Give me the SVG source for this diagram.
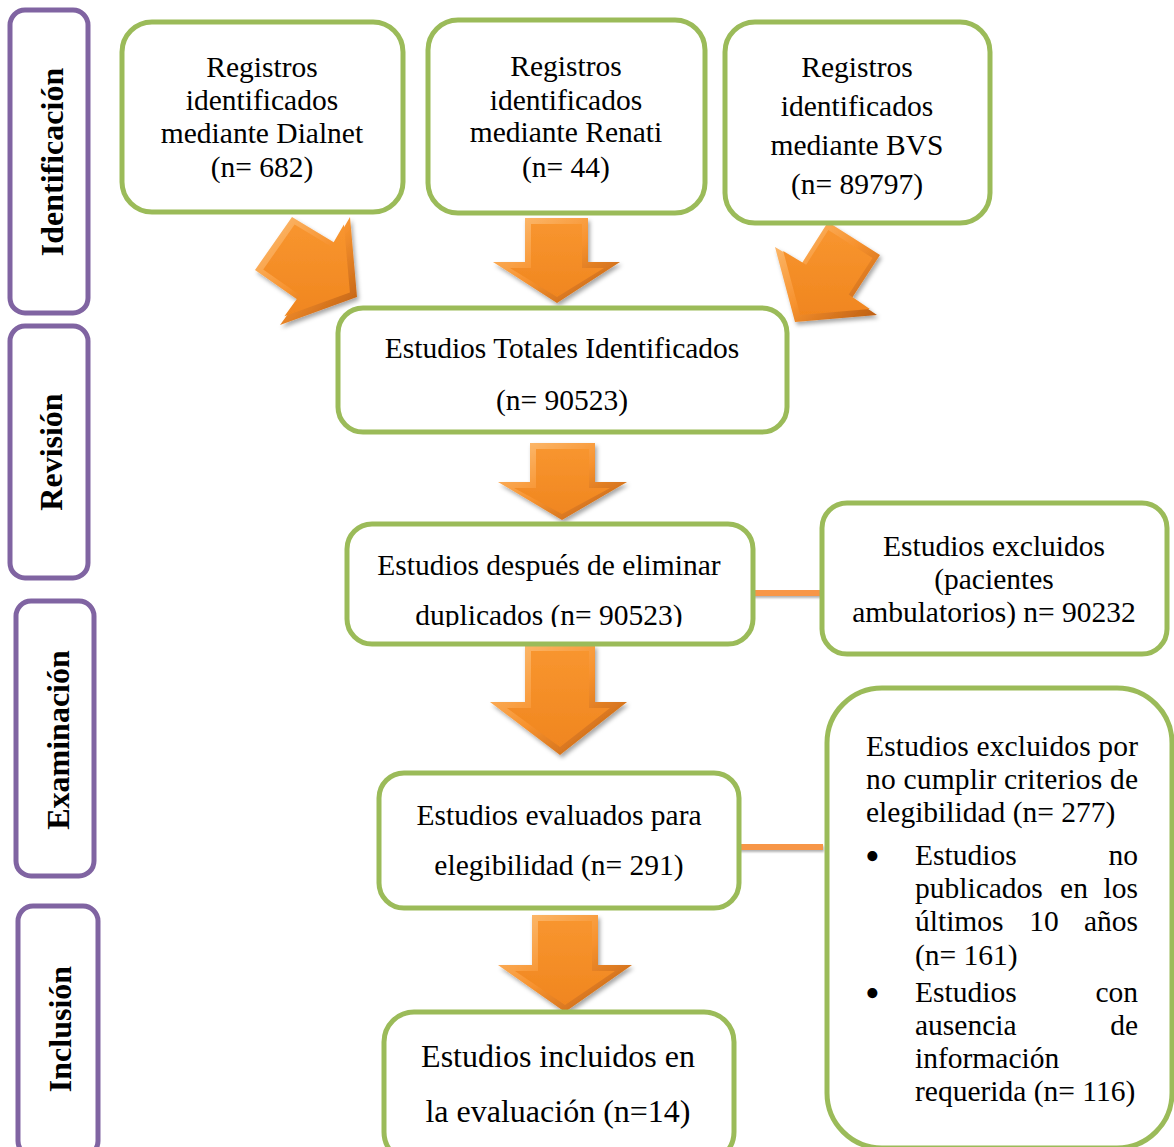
<svg xmlns="http://www.w3.org/2000/svg" width="1174" height="1147" viewBox="0 0 1174 1147">
<defs>
<style>
.phase{fill:#fff;stroke:#8064A2;stroke-width:5}
.ptxt{font-family:"Liberation Serif","Times New Roman",serif;font-weight:bold;font-size:32px;fill:#000;text-anchor:middle}
.box{fill:#fff;stroke:#9BBB59;stroke-width:5}
.t{font-family:"Liberation Serif","Times New Roman",serif;font-size:29.5px;fill:#000;text-anchor:middle}
.tb{font-size:32px}
.tl{font-family:"Liberation Serif","Times New Roman",serif;font-size:29.5px;fill:#000}
.bul{font-family:"Liberation Serif","Times New Roman",serif;font-size:42px;fill:#000}
.conn{fill:#F79646}
.aout{fill:url(#gOut)}
.ain{fill:url(#gIn)}
</style>
<linearGradient id="gOut" x1="0" y1="0" x2="1" y2="1">
<stop offset="0" stop-color="#FDC27C"/>
<stop offset="0.5" stop-color="#F7922E"/>
<stop offset="1" stop-color="#B85A10"/>
</linearGradient>
<linearGradient id="gIn" x1="0" y1="0" x2="0" y2="1">
<stop offset="0" stop-color="#F8952F"/>
<stop offset="1" stop-color="#F0861F"/>
</linearGradient>
<filter id="sh" x="-20%" y="-20%" width="140%" height="140%">
<feDropShadow dx="2" dy="3" stdDeviation="2" flood-color="#000" flood-opacity="0.35"/>
</filter>
<filter id="lsh" filterUnits="userSpaceOnUse" x="0" y="0" width="1174" height="1147">
<feDropShadow dx="1" dy="2" stdDeviation="1" flood-color="#000" flood-opacity="0.3"/>
</filter>
<clipPath id="clip5"><rect x="347" y="523" width="406" height="104"/></clipPath>
</defs>
<rect width="1174" height="1147" fill="#fff"/>

<g id="phase-identificacion">
<rect class="phase" x="10" y="10" width="78" height="303" rx="15"/>
<text class="ptxt" transform="translate(63,162) rotate(-90)">Identificación</text>
</g>
<g id="phase-revision">
<rect class="phase" x="10" y="326" width="78" height="252" rx="15"/>
<text class="ptxt" transform="translate(62,452) rotate(-90)">Revisión</text>
</g>
<g id="phase-examinacion">
<rect class="phase" x="16" y="601" width="78" height="275" rx="15"/>
<text class="ptxt" transform="translate(69,740) rotate(-90)">Examinación</text>
</g>
<g id="phase-inclusion">
<rect class="phase" x="18" y="906" width="80" height="250" rx="15"/>
<text class="ptxt" transform="translate(71,1029) rotate(-90)">Inclusión</text>
</g>

<g id="connectors">
<g filter="url(#sh)">
<polygon class="aout" points="292,217 335,243 350,217 357,297 280,325 298,300 255,270"/>
<polygon class="ain" points="294.6,224.5 331.2,246.6 343.9,224.5 349.9,292.5 284.4,316.3 299.7,295 263.2,269.6"/>
</g>
<g filter="url(#sh)">
<polygon class="aout" points="525,218 588,218 588,262 620,262 557,303 493,262 525,262"/>
<polygon class="ain" points="531,224 582,224 582,268 604,268 557,297 510,268 531,268"/>
</g>
<g filter="url(#sh)">
<polygon class="aout" points="828,222 880,255 852,298 877,315 795,322 775,247 802,263"/>
<polygon class="ain" points="828.3,229.9 872.5,257.9 848.7,294.5 869.9,308.9 800.2,314.9 783.2,251.1 806.2,264.7"/>
</g>
<g filter="url(#sh)">
<polygon class="aout" points="530,443 595,443 595,482 627,482 562,520 498,482 530,482"/>
<polygon class="ain" points="536,449 589,449 589,488 610,488 562,514 514,488 536,488"/>
</g>
<g filter="url(#sh)">
<polygon class="aout" points="525,645 595,645 595,702 627,702 560,755 490,702 525,702"/>
<polygon class="ain" points="531,651 589,651 589,708 610,708 560,747 507,708 531,708"/>
</g>
<g filter="url(#sh)">
<polygon class="aout" points="532,915 598,915 598,965 632,965 565,1012 498,965 532,965"/>
<polygon class="ain" points="538,921 592,921 592,971 615,971 565,1005 515,971 538,971"/>
</g>
<rect class="conn" filter="url(#lsh)" x="752" y="590" width="76" height="6"/>
<rect class="conn" filter="url(#lsh)" x="738" y="844" width="85" height="6"/>
</g>

<g id="node-dialnet">
<rect class="box" x="122" y="22" width="281" height="190" rx="30"/>
<text class="t" x="262" y="77">Registros</text>
<text class="t" x="262" y="110">identificados</text>
<text class="t" x="262" y="143">mediante Dialnet</text>
<text class="t" x="262" y="177">(n= 682)</text>
</g>
<g id="node-renati">
<rect class="box" x="428" y="20" width="277" height="193" rx="30"/>
<text class="t" x="566" y="76">Registros</text>
<text class="t" x="566" y="110">identificados</text>
<text class="t" x="566" y="142">mediante Renati</text>
<text class="t" x="566" y="177">(n= 44)</text>
</g>
<g id="node-bvs">
<rect class="box" x="725" y="22" width="265" height="201" rx="30"/>
<text class="t" x="857" y="77">Registros</text>
<text class="t" x="857" y="116">identificados</text>
<text class="t" x="857" y="155">mediante BVS</text>
<text class="t" x="857" y="194">(n= 89797)</text>
</g>
<g id="node-totales">
<rect class="box" x="338" y="308" width="449" height="124" rx="25"/>
<text class="t" x="562" y="358">Estudios Totales Identificados</text>
<text class="t" x="562" y="410">(n= 90523)</text>
</g>
<g id="node-duplicados">
<rect class="box" x="347" y="524" width="406" height="120" rx="25"/>
<g clip-path="url(#clip5)">
<text class="t" x="549" y="575">Estudios después de eliminar</text>
<text class="t" x="549" y="625">duplicados (n= 90523)</text>
</g>
</g>
<g id="node-excluidos-ambulatorios">
<rect class="box" x="822" y="503" width="345" height="151" rx="25"/>
<text class="t" x="994" y="556">Estudios excluidos</text>
<text class="t" x="994" y="589">(pacientes</text>
<text class="t" x="994" y="622">ambulatorios) n= 90232</text>
</g>
<g id="node-evaluados">
<rect class="box" x="379" y="773" width="360" height="135" rx="25"/>
<text class="t" x="559" y="825">Estudios evaluados para</text>
<text class="t" x="559" y="875">elegibilidad (n= 291)</text>
</g>
<g id="node-excluidos-criterios">
<rect class="box" x="827" y="688" width="345" height="460" rx="55"/>
<text class="tl" x="866" y="756" textLength="272" lengthAdjust="spacing">Estudios excluidos por</text>
<text class="tl" x="866" y="789" textLength="272" lengthAdjust="spacing">no cumplir criterios de</text>
<text class="tl" x="866" y="822">elegibilidad (n= 277)</text>
<text class="bul" x="865" y="870">•</text>
<text class="tl" x="915" y="865">Estudios</text>
<text class="tl" x="1138" y="865" text-anchor="end">no</text>
<text class="tl" x="915" y="898">publicados</text>
<text class="tl" x="1074" y="898" text-anchor="middle">en</text>
<text class="tl" x="1138" y="898" text-anchor="end">los</text>
<text class="tl" x="915" y="931">últimos</text>
<text class="tl" x="1044" y="931" text-anchor="middle">10</text>
<text class="tl" x="1138" y="931" text-anchor="end">años</text>
<text class="tl" x="915" y="965">(n= 161)</text>
<text class="bul" x="865" y="1007">•</text>
<text class="tl" x="915" y="1002">Estudios</text>
<text class="tl" x="1138" y="1002" text-anchor="end">con</text>
<text class="tl" x="915" y="1035">ausencia</text>
<text class="tl" x="1138" y="1035" text-anchor="end">de</text>
<text class="tl" x="915" y="1068">información</text>
<text class="tl" x="915" y="1101">requerida (n= 116)</text>
</g>
<g id="node-incluidos">
<rect class="box" x="384" y="1012" width="350" height="150" rx="30"/>
<text class="t tb" x="558" y="1067">Estudios incluidos en</text>
<text class="t tb" x="558" y="1122">la evaluación (n=14)</text>
</g>
</svg>
